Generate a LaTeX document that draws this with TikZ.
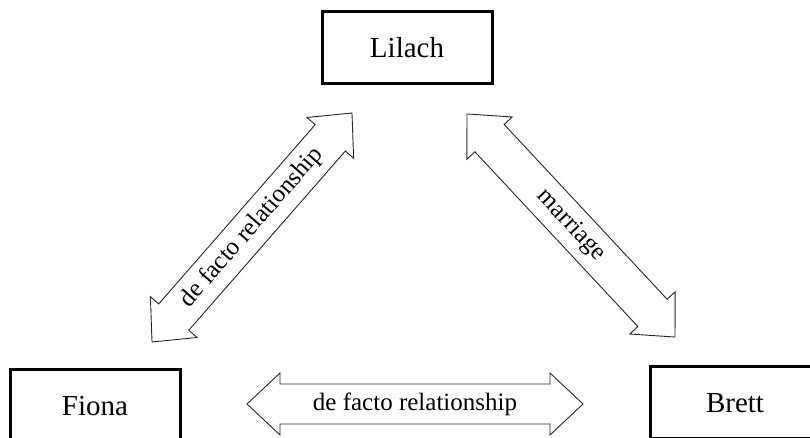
\documentclass[tikz,border=0pt]{standalone}
\usepackage{fontspec}
\setmainfont{Liberation Serif}
\tikzset{
  person/.style={draw=black, line width=3pt, fill=white, minimum width=170pt, minimum height=72pt, inner sep=0pt, font=\fontsize{29}{32}\selectfont},
  blockline/.style={draw=black!85, line width=0.9pt, line join=miter, fill=white},
  lbl/.style={inner sep=0pt, font=\fontsize{25}{28}\selectfont}
}
% #1 name, #2 centre, #3 angle, #4 half length, #5 label
\newcommand{\blockarr}[5]{%
  \begin{scope}[shift={#2}, rotate=#3]
    \draw[blockline] (-#4,0) -- (-#4+33,31) -- (-#4+33,20) -- (#4-33,20) -- (#4-33,31) -- (#4,0)
      -- (#4-33,-31) -- (#4-33,-20) -- (-#4+33,-20) -- (-#4+33,-31) -- cycle;
    \node[lbl, rotate=#3] (#1) at (0,0) {#5};
  \end{scope}}
\begin{document}
\begin{tikzpicture}[x=1pt, y=1pt]
  \useasboundingbox (0,0) rectangle (810,438);
  \clip (0,0) rectangle (810,438);
  \fill[white] (0,0) rectangle (810,438);
  \node[person] (lilach) at (407,390) {Lilach};
  \node[person] (fiona) at (95,32) {Fiona};
  \node[person] (brett) at (735,35) {Brett};
  \blockarr{lf}{(252,210.5)}{48.87}{152}{de facto relationship}
  \blockarr{lb}{(571,212.5)}{-47.0}{152.5}{marriage}
  \blockarr{fb}{(415,34)}{0}{168}{de facto relationship}
\end{tikzpicture}
\end{document}
